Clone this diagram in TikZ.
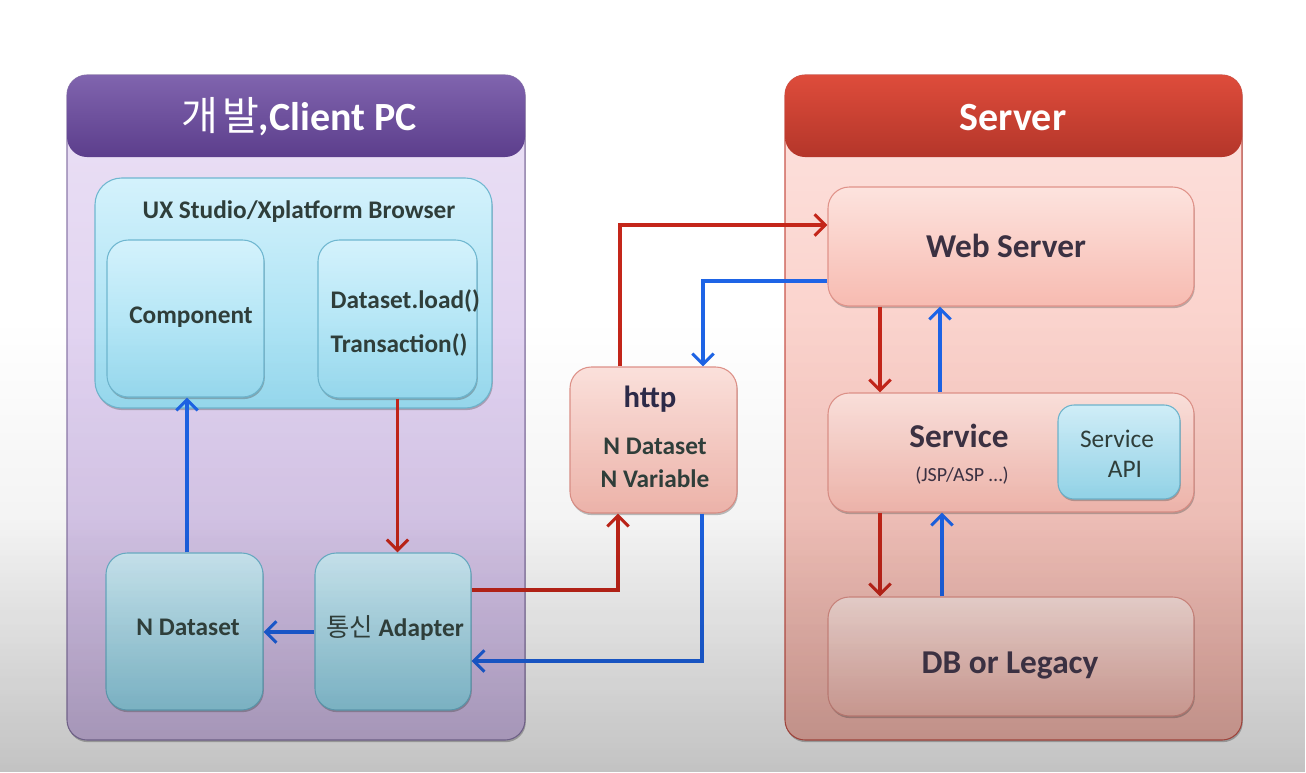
\documentclass[tikz,border=0pt]{standalone}
\usepackage{fontspec}
\setmainfont{Carlito}
\newfontfamily\kr{Noto Sans CJK KR}
\usetikzlibrary{arrows.meta,fit,shadows,fadings,calc}

\definecolor{cliHeadT}{HTML}{8064AE}
\definecolor{cliHeadB}{HTML}{5C3E8C}
\definecolor{cliBodyT}{HTML}{EBE1F5}
\definecolor{cliBodyB}{HTML}{D3BFEA}
\definecolor{cliBorder}{HTML}{8C7AAA}
\definecolor{srvHeadT}{HTML}{DE4C3B}
\definecolor{srvHeadB}{HTML}{B4362A}
\definecolor{srvBodyT}{HTML}{FDE3DF}
\definecolor{srvBodyB}{HTML}{F6B8AE}
\definecolor{srvBorder}{HTML}{C8564C}
\definecolor{cyanT}{HTML}{D4F2FC}
\definecolor{cyanB}{HTML}{98DBF0}
\definecolor{cyanLine}{HTML}{6FB7D0}
\definecolor{pinkT}{HTML}{FDE3DE}
\definecolor{pinkB}{HTML}{F7BBB1}
\definecolor{pinkLine}{HTML}{E0938A}
\definecolor{cText}{HTML}{2F3E3A}
\definecolor{sText}{HTML}{3B3142}
\definecolor{hText}{HTML}{2C2A48}
\definecolor{arrRed}{HTML}{C4261A}
\definecolor{arrBlue}{HTML}{1E64E6}

\tikzfading[name=vlin, top color=transparent!100, bottom color=transparent!0]

\begin{document}
\begin{tikzpicture}[x=0.75pt,y=-0.75pt,
  shadowed/.style={drop shadow={shadow xshift=0.6pt,shadow yshift=-1.6pt,opacity=0.35,fill=black!70}},
  panel/.style={inner sep=0pt, rounded corners=15pt, line width=0.8pt, shadowed},
  head/.style={inner sep=0pt, rounded corners=15pt},
  cbox/.style={inner sep=0pt, rounded corners=16pt, draw=cyanLine, line width=0.8pt, top color=cyanT, bottom color=cyanB, shadowed},
  pbox/.style={inner sep=0pt, rounded corners=16pt, draw=pinkLine, line width=0.8pt, top color=pinkT, bottom color=pinkB, shadowed},
  ttl/.style={anchor=base, text=white, font=\bfseries\fontsize{30}{34}\selectfont},
  ctxt/.style={anchor=base, text=cText, font=\bfseries\fontsize{19}{22}\selectfont},
  stxt/.style={anchor=base, text=sText, font=\bfseries\fontsize{25}{28}\selectfont},
  arr/.style={line width=2.3pt, -{Straight Barb[length=8pt,width=16pt]}},
  redarr/.style={arr, draw=arrRed},
  bluarr/.style={arr, draw=arrBlue}
]
\useasboundingbox (0,0) rectangle (1306,772);
\fill[white] (0,0) rectangle (1306,772);

% panels
\node[panel, draw=cliBorder, top color=cliBodyT, bottom color=cliBodyB, fit={(67,75) (525,740)}] (client) {};
\node[head, top color=cliHeadT, bottom color=cliHeadB, fit={(67,75) (525,157)}] (clienthead) {};
\node[panel, draw=srvBorder, top color=srvBodyT, bottom color=srvBodyB, fit={(785,75) (1242,740)}] (server) {};
\node[head, top color=srvHeadT, bottom color=srvHeadB, fit={(785,75) (1242,157)}] (serverhead) {};

% client boxes
\node[cbox, rounded corners=20pt, fit={(95,178) (492,408)}] (ux) {};
\node[cbox, fit={(107,240) (264,397)}] (comp) {};
\node[cbox, fit={(318,240) (477,398)}] (dsload) {};
\node[cbox, fit={(106,553) (263,710)}] (ndata) {};
\node[cbox, fit={(315,553) (471,710)}] (adapter) {};

% http
\node[pbox, fit={(570,367) (737,513)}] (http) {};

% server boxes
\node[pbox, fit={(828,187) (1194,306)}] (web) {};
\node[pbox, fit={(828,393) (1194,512)}] (service) {};
\node[cbox, rounded corners=12pt, fit={(1058,405) (1180,499)}] (api) {};
\node[pbox, fit={(828,597) (1194,716)}] (db) {};

% arrows
\draw[redarr] (dsload.south) -- (dsload.south |- adapter.north);
\draw[bluarr] (ndata.north -| 187,0) -- (comp.south -| 187,0);
\draw[bluarr] (adapter.west |- 0,632) -- (ndata.east |- 0,632);
\draw[redarr] (adapter.east |- 0,590) -| (618,0 |- http.south);
\draw[bluarr] (702,0 |- http.south) |- (adapter.east |- 0,661);
\draw[redarr] (620,0 |- http.north) |- (web.west |- 0,225);
\draw[bluarr] (web.west |- 0,281) -| (703,0 |- http.north);
\draw[redarr] (880,0 |- web.south) -- (880,0 |- service.north);
\draw[bluarr] (940,0 |- service.north) -- (940,0 |- web.south);
\draw[redarr] (880,0 |- service.south) -- (880,0 |- db.north);
\draw[bluarr] (942,0 |- db.north) -- (942,0 |- service.south);

% darkening toward the bottom
\fill[black, opacity=0.10, path fading=vlin] (0,320) rectangle (1306,772);
\fill[black, opacity=0.15, path fading=vlin] (0,520) rectangle (1306,772);

% texts
\node[ttl] (clientlbl) at (299,130) {{\kr\mdseries 개\kern3pt 발},Client PC};
\node[ttl] (serverlbl) at (1013,130) {Server};
\node[ctxt] (uxlbl) at (299,218) {UX Studio/Xplatform Browser};
\node[ctxt] (complbl) at (191,323) {Component};
\node[ctxt, anchor=base west] (loadlbl) at (326,308) {Dataset.load()};
\node[ctxt, anchor=base west] (translbl) at (326,352) {Transaction()};
\node[ctxt] (ndatalbl) at (188,635) {N Dataset};
\node[ctxt] (adapterlbl) at (395,636) {{\kr\mdseries 통신} Adapter};
\node[anchor=base, text=hText, font=\bfseries\fontsize{23}{26}\selectfont] (httplbl) at (650,407) {http};
\node[ctxt] (hdata) at (655,454) {N Dataset};
\node[ctxt] (hvar) at (655,487) {N Variable};
\node[stxt] (weblbl) at (1006,257) {Web Server};
\node[stxt] (svclbl) at (959,447) {Service};
\node[anchor=base, text=sText, font=\fontsize{15}{18}\selectfont] (jsplbl) at (962,481) {(JSP/ASP …)};
\node[anchor=base, text=cText, font=\fontsize{19}{22}\selectfont] (apil1) at (1117,447) {Service};
\node[anchor=base, text=cText, font=\fontsize{19}{22}\selectfont] (apil2) at (1125,477) {API};
\node[stxt] (dblbl) at (1010,673) {DB or Legacy};
\end{tikzpicture}
\end{document}
